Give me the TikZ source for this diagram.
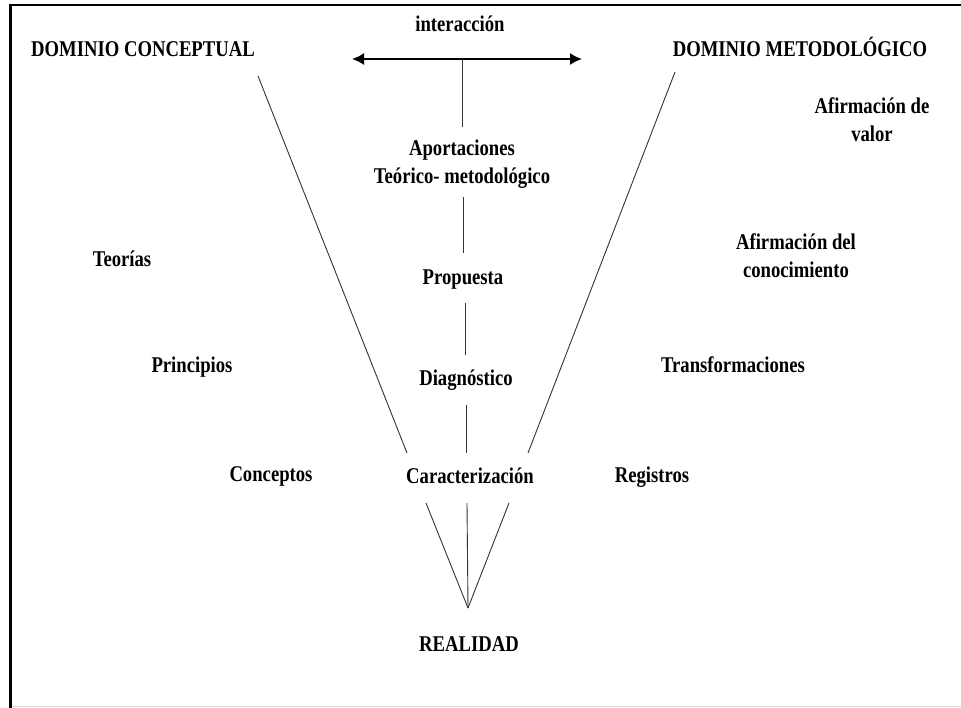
\documentclass[tikz,border=0pt]{standalone}
\usepackage{fontspec}
\setmainfont{Liberation Serif}[FakeStretch=0.83]
\usetikzlibrary{arrows.meta}
\begin{document}
\begin{tikzpicture}[x=1pt,y=-1pt,
  lbl/.style={font=\fontsize{22.5}{28}\selectfont\bfseries, inner sep=0pt, anchor=base, align=center},
  ln/.style={draw=black!80, line width=0.9pt},
  dbl/.style={draw=black, line width=1.6pt, {Latex[length=12pt,width=12pt]}-{Latex[length=12pt,width=12pt]}},
]
\useasboundingbox (0,0) rectangle (961,708);
\fill[white] (0,0) rectangle (961,708);
% frame
\draw[gray!30, line width=1.6pt] (11,706.5) -- (961,706.5);
\draw[black, line width=2.4pt] (10.5,708) -- (10.5,5) -- (961,5);

% texts (anchor base = baseline of the last line)
\node[lbl] (dc) at (143,57) {DOMINIO CONCEPTUAL};
\node[lbl] (int) at (460,32) {interacción};
\node[lbl] (dm) at (800,57) {DOMINIO METODOLÓGICO};
\node[lbl] (av) at (872,142) {Afirmación de\\valor};
\node[lbl] (ac) at (796,278) {Afirmación del\\conocimiento};
\node[lbl] (ap) at (462,184) {Aportaciones\\Teórico- metodológico};
\node[lbl] (pr) at (463,285) {Propuesta};
\node[lbl] (dg) at (466,385) {Diagnóstico};
\node[lbl] (ca) at (470,483) {Caracterización};
\node[lbl] (re) at (469,651) {REALIDAD};
\node[lbl] (te) at (122,267) {Teorías};
\node[lbl] (pi) at (192,373) {Principios};
\node[lbl] (co) at (271,481) {Conceptos};
\node[lbl] (tr) at (733,373) {Transformaciones};
\node[lbl] (rg) at (652,482) {Registros};

% connector end points
\coordinate (aL) at (352,59);
\coordinate (aR) at (582,59);
\coordinate (aM) at (462,59);
\coordinate (m1) at (462,127);
\coordinate (m2a) at (463,197);
\coordinate (m2b) at (463,253);
\coordinate (m3a) at (465,303);
\coordinate (m3b) at (465,355);
\coordinate (m4a) at (466,405);
\coordinate (m4b) at (466,453);
\coordinate (lt) at (258,76);
\coordinate (lb) at (407,453);
\coordinate (rt) at (675,72);
\coordinate (rb) at (528,453);
\coordinate (vL) at (426,503);
\coordinate (vM) at (467,503);
\coordinate (vR) at (509,503);
\coordinate (apex) at (468,608);

% connectors
\draw[dbl] (aL) -- (aR);
\draw[ln] (aM) -- (m1);
\draw[ln] (m2a) -- (m2b);
\draw[ln] (m3a) -- (m3b);
\draw[ln] (m4a) -- (m4b);
\draw[ln] (lt) -- (lb);
\draw[ln] (rt) -- (rb);
\draw[ln] (vL) -- (apex);
\draw[ln] (vM) -- (apex);
\draw[ln] (vR) -- (apex);
\end{tikzpicture}
\end{document}
